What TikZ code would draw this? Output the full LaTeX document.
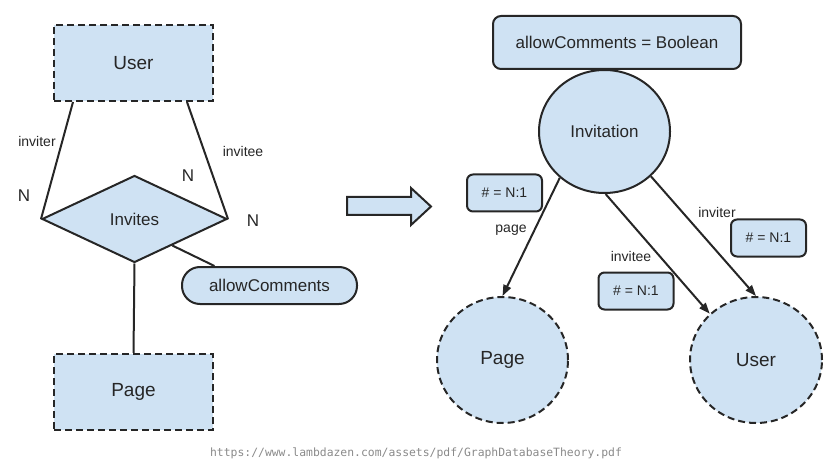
\documentclass[tikz,border=0pt]{standalone}
\usepackage{fontspec}
\setmainfont{Liberation Sans}
\newfontfamily\urlfont{DejaVu Sans Mono}
\usetikzlibrary{shapes.geometric,arrows.meta}
\definecolor{fillblue}{HTML}{CFE2F3}
\definecolor{ink}{HTML}{262626}
\definecolor{urlgray}{HTML}{8A8A8A}
\begin{document}
\begin{tikzpicture}[x=1pt,y=-1pt,
  every node/.style={text=ink},
  ln/.style={draw=ink,line width=2pt},
  dsh/.style={dash pattern=on 7pt off 4pt},
  entity/.style={ln,dsh,fill=fillblue,minimum width=159pt,minimum height=76pt,font=\fontsize{19}{22}\selectfont},
  bigtxt/.style={font=\fontsize{17}{20}\selectfont},
  smalltxt/.style={font=\fontsize{14}{16}\selectfont},
  card/.style={ln,fill=fillblue,rounded corners=6pt,minimum width=75pt,minimum height=37pt,smalltxt},
  arr/.style={ln,-{Triangle[length=11pt,width=8pt]}}
]
\useasboundingbox (0,0) rectangle (835,465);

% ---------- left: ER diagram ----------
\node[entity] (user) at (133.5,63) {User};
\node[entity] (page) at (133.5,392) {Page};
\node[ln,fill=fillblue,diamond,minimum width=185pt,minimum height=87pt,inner sep=0pt,bigtxt] (inv) at (134.5,219) {Invites};
\node[ln,fill=fillblue,rectangle,rounded corners=18pt,minimum width=175pt,minimum height=37pt,bigtxt] (ac) at (269.5,285.5) {allowComments};

\draw[ln] ([xshift=20pt]user.south west) -- (inv.west);
\draw[ln] ([xshift=-27pt]user.south east) -- (inv.east);
\draw[ln] (inv.south) -- (page.north);
\draw[ln] (inv.-35) -- ([xshift=-55pt]ac.north);

\node[smalltxt] (lInviter) at (37,141) {inviter};
\node[smalltxt] (lInvitee) at (243,151) {invitee};
\node[bigtxt] (n1) at (24,196) {N};
\node[bigtxt] (n2) at (188,176) {N};
\node[bigtxt] (n3) at (253,221) {N};

% ---------- block arrow ----------
\draw[ln,fill=fillblue,line join=miter] (347,197) -- (411,197) -- (411,188) -- (431,206.5) -- (411,225) -- (411,215) -- (347,215) -- cycle;

% ---------- right: graph ----------
\node[card,minimum width=248pt,minimum height=53pt,rounded corners=8pt,bigtxt] (bool) at (617,42.5) {allowComments = Boolean\hspace{12pt}};
\node[ln,fill=fillblue,ellipse,minimum width=131pt,minimum height=123pt,inner sep=0pt,bigtxt] (invit) at (604.5,131.5) {Invitation};
\node[ln,dsh,fill=fillblue,ellipse,minimum width=131pt,minimum height=126pt,inner sep=0pt,font=\fontsize{19}{22}\selectfont] (rpage) at (502.5,360) {Page};
\node[ln,dsh,fill=fillblue,ellipse,minimum width=132pt,minimum height=126pt,inner sep=0pt,font=\fontsize{19}{22}\selectfont] (ruser) at (756,360) {User};

\draw[arr] (invit.-134) -- (rpage.north);
\draw[arr] (invit.-89.5) -- (ruser.135);
\draw[arr] (invit.-44) -- (ruser.north);

\node[card] (c1) at (504.5,193) {\# = N:1};
\node[card] (c2) at (768.5,238) {\# = N:1};
\node[card] (c3) at (636,291) {\# = N:1};

\node[smalltxt] (lpage) at (511,230) {page};
\node[smalltxt] (linvitee) at (631,256) {invitee};
\node[smalltxt] (linviter) at (717,212) {inviter};

% ---------- source ----------
\node[text=urlgray,font=\urlfont\fontsize{11.4}{13}\selectfont] (src) at (416,453) {https://www.lambdazen.com/assets/pdf/GraphDatabaseTheory.pdf};
\end{tikzpicture}
\end{document}
